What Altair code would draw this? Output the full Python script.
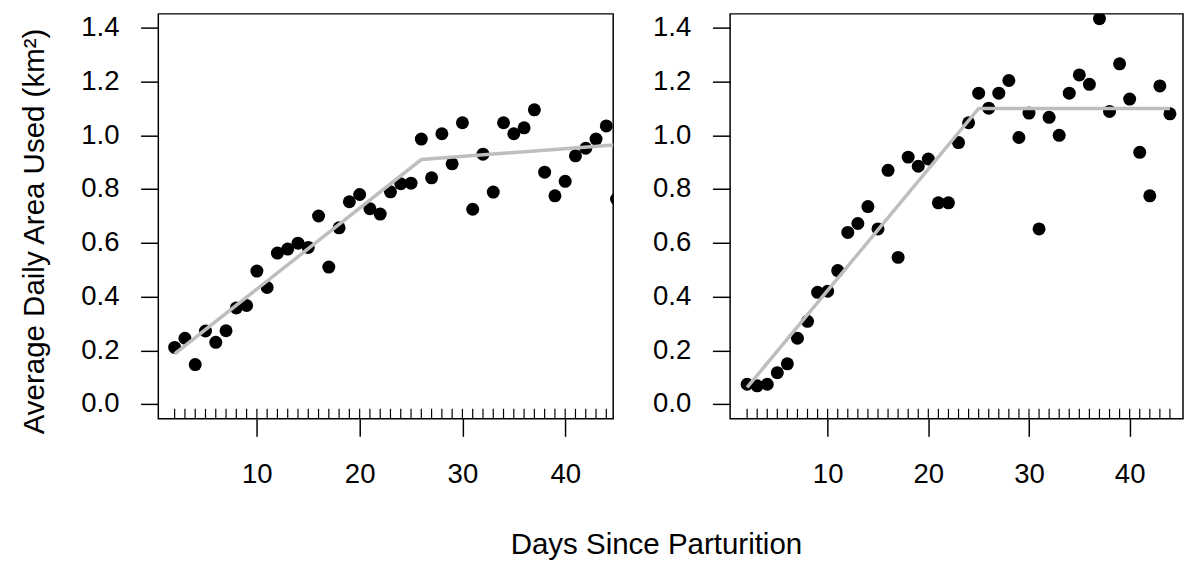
import altair as alt
import pandas as pd

# ---- data ----
left_days = list(range(2, 46))
left_area = [0.211, 0.245, 0.147, 0.272, 0.230, 0.273, 0.358, 0.367, 0.495, 0.434,
             0.562, 0.577, 0.599, 0.583, 0.700, 0.510, 0.656, 0.753, 0.780, 0.727,
             0.707, 0.790, 0.820, 0.822, 0.986, 0.842, 1.006, 0.894, 1.047, 0.725,
             0.930, 0.789, 1.047, 1.006, 1.028, 1.095, 0.863, 0.775, 0.829, 0.924,
             0.952, 0.986, 1.035, 0.763]
right_days = list(range(2, 45))
right_area = [0.074, 0.068, 0.074, 0.117, 0.150, 0.245, 0.308, 0.416, 0.420, 0.497,
              0.639, 0.672, 0.735, 0.652, 0.870, 0.546, 0.919, 0.885, 0.912, 0.749,
              0.749, 0.973, 1.047, 1.157, 1.101, 1.157, 1.204, 0.992, 1.083, 0.652,
              1.067, 1.000, 1.157, 1.225, 1.190, 1.434, 1.089, 1.266, 1.135, 0.937,
              0.775, 1.184, 1.080]
left_fit_days = [2, 26, 45]
left_fit_area = [0.187, 0.910, 0.965]
right_fit_days = [2, 25, 44]
right_fit_area = [0.062, 1.100, 1.100]
rug_days = list(range(2, 45))
y_ticks = [0.0, 0.2, 0.4, 0.6, 0.8, 1.0, 1.2, 1.4]
x_ticks = [10, 20, 30, 40]

FONT = "Liberation Sans"
H = 412
Y_DOMAIN = [-0.054, 1.452]


def panel(days, area, fdays, farea, xdom, width, with_title):
    pts = pd.DataFrame({"day": days, "area": area})
    fit = pd.DataFrame({"day": fdays, "area": farea})
    rug = pd.DataFrame({"day": rug_days})
    xscale = alt.Scale(domain=xdom, nice=False, zero=False)
    yscale = alt.Scale(domain=Y_DOMAIN, nice=False, zero=False)
    xaxis = alt.Axis(values=x_ticks, tickSize=18, tickColor="black", tickWidth=1.5,
                     domain=False, grid=False, labelFontSize=28, labelFont=FONT,
                     labelColor="black", labelPadding=25, title=None)
    common_y = dict(values=y_ticks, format=".1f", tickSize=18, tickColor="black",
                    tickWidth=1.5, domain=False, grid=False, labelFontSize=28,
                    labelFont=FONT, labelColor="black", labelPadding=22)
    if with_title:
        yaxis = alt.Axis(title="Average Daily Area Used (km²)", titleFont=FONT,
                         titleFontSize=30, titleFontWeight="normal", titleColor="black",
                         titleX=-117, titleY=221, titleBaseline="alphabetic",
                         titleAngle=-90, **common_y)
    else:
        yaxis = alt.Axis(title=None, **common_y)
    points = alt.Chart(pts).mark_circle(size=175, color="black", opacity=1, clip=True).encode(
        x=alt.X("day:Q", scale=xscale, axis=xaxis),
        y=alt.Y("area:Q", scale=yscale, axis=yaxis),
    )
    line = alt.Chart(fit).mark_line(color="#BEBEBE", strokeWidth=3.5, clip=True).encode(
        x=alt.X("day:Q", scale=xscale),
        y=alt.Y("area:Q", scale=yscale),
    )
    rugs = alt.Chart(rug).mark_rule(color="black", strokeWidth=1.2).encode(
        x=alt.X("day:Q", scale=xscale),
        y=alt.value(H - 10),
        y2=alt.value(H),
    )
    return alt.layer(rugs, points, line).properties(width=width, height=H)


left = panel(left_days, left_area, left_fit_days, left_fit_area, [0.41, 44.67], 463, True)
right = panel(right_days, right_area, right_fit_days, right_fit_area, [0.31, 45.3], 461, False)

chart = alt.hconcat(left, right, spacing=38).properties(
    title=alt.TitleParams("Days Since Parturition", orient="bottom", anchor="middle",
                          font=FONT, fontSize=30, fontWeight="normal", color="black",
                          offset=42, dx=56),
    padding={"left": 11, "top": 0, "right": 0, "bottom": 0},
).configure(background="white").configure_view(stroke="black", strokeWidth=1.5)

chart.save("out.html", embed_options={"renderer": "svg", "actions": False})
